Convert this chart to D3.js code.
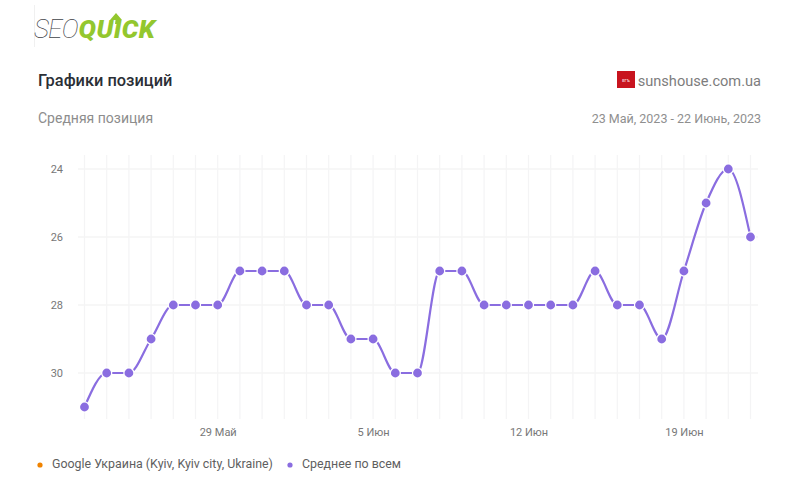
<!DOCTYPE html>
<html lang="ru">
<head>
<meta charset="utf-8">
<script src="https://cdn.jsdelivr.net/npm/d3@7/dist/d3.min.js"></script>
<style>
html,body{margin:0;padding:0;background:#fff}
svg{display:block}
text{font-family:Roboto,"Open Sans",sans-serif}
</style>
</head>
<body>
<svg id="chart" width="800" height="478"></svg>
<script>
// Average search position per day, 23 May to 22 June 2023
const positions = [31,30,30,29,28,28,28,27,27,27,28,28,29,29,30,30,27,27,28,28,28,28,28,27,28,28,29,27,25,24,26];
const firstDay = "2023-05-23";
const yTicks = [24,26,28,30];
const xTickIndexes = [6,13,20,27];
const xTickLabels = ["29 Май","5 Июн","12 Июн","19 Июн"];
const legendNames = ["Google Украина (Kyiv, Kyiv city, Ukraine)","Среднее по всем"];
const legendColors = ["#f08300","#8a6de0"];

const svg = d3.select("#chart");
const days = positions.map((_, i) => d3.utcDay.offset(new Date(firstDay + "T00:00:00Z"), i));

const x = d3.scaleUtc().domain([days[0], days[days.length - 1]]).range([84.5, 750.5]);
const y = d3.scaleLinear().domain([24, 30]).range([169, 373]);

// Header: logo, titles, site and date range
svg.append("line").attr("x1",34.5).attr("x2",34.5).attr("y1",5).attr("y2",47).attr("stroke","#f0f0f0");
svg.append("text").attr("x",34).attr("y",38).attr("font-size",26).attr("letter-spacing",-0.8)
  .attr("font-weight",100).attr("font-style","italic").attr("fill","#3f4348").text("SEO");
svg.append("text").attr("x",78.5).attr("y",38).attr("font-size",26).attr("letter-spacing",0.5)
  .attr("font-weight",900).attr("font-style","italic").attr("fill","#93c72e").text("QUICK");
svg.append("path").attr("d",d3.line()([[110,20],[116,13],[122,20],[119.5,20],[119,24],[115,24],[115.5,20]])+"Z").attr("fill","#93c72e");

svg.append("text").attr("x",38).attr("y",86).attr("font-size",16.4).attr("font-weight",500).attr("fill","#2b2f36").text("Графики позиций");
svg.append("text").attr("x",38).attr("y",123).attr("font-size",14).attr("fill","#8d8d8d").text("Средняя позиция");

svg.append("rect").attr("x",617).attr("y",71).attr("width",18).attr("height",17).attr("fill","#c8141e");
svg.append("text").attr("x",626).attr("y",81.5).attr("font-size",4).attr("font-weight",700).attr("text-anchor","middle").attr("fill","#f5d5d5").text("ЕГЪ");
svg.append("text").attr("x",761).attr("y",85.5).attr("font-size",14.6).attr("text-anchor","end").attr("fill","#7d7d7d").text("sunshouse.com.ua");
svg.append("text").attr("x",761).attr("y",122.5).attr("font-size",12.5).attr("text-anchor","end").attr("fill","#8f8f8f").text("23 Май, 2023 - 22 Июнь, 2023");

// Grid: one vertical rule per day, one horizontal rule per y tick
svg.append("g").selectAll("line").data(days).join("line")
  .attr("x1",d=>x(d)).attr("x2",d=>x(d)).attr("y1",155).attr("y2",419)
  .attr("stroke","#f4f4f5").attr("stroke-width",1.2);
svg.append("g").selectAll("line").data(yTicks).join("line")
  .attr("x1",78).attr("x2",758).attr("y1",d=>y(d)).attr("y2",d=>y(d))
  .attr("stroke","#f4f4f5").attr("stroke-width",1.5);

// Axes
const yAxis = d3.axisLeft(y).tickValues(yTicks).tickSize(0).tickPadding(0).tickFormat(d3.format("d"));
const gy = svg.append("g").attr("transform","translate(63,0)").call(yAxis);
gy.select(".domain").remove();
gy.selectAll("text").attr("font-size",11).attr("fill","#777").style("font-family","Roboto,sans-serif");

const xAxis = d3.axisBottom(x).tickValues(xTickIndexes.map(i=>days[i])).tickSize(0).tickPadding(0)
  .tickFormat((d,i)=>xTickLabels[i]);
const gx = svg.append("g").attr("transform","translate(0,428)").call(xAxis);
gx.select(".domain").remove();
gx.selectAll("text").attr("font-size",11).attr("fill","#777").style("font-family","Roboto,sans-serif");

// Series line and markers with a white ring
const line = d3.line().x((d,i)=>x(days[i])).y(d=>y(d)).curve(d3.curveMonotoneX);
svg.append("path").attr("d",line(positions)).attr("fill","none").attr("stroke","#8a6de0").attr("stroke-width",2.2);
svg.append("g").selectAll("circle").data(positions).join("circle")
  .attr("cx",(d,i)=>x(days[i])).attr("cy",d=>y(d)).attr("r",4.4)
  .attr("fill","#8a6de0").attr("stroke","#fff").attr("stroke-width",2.5).attr("paint-order","stroke");

// Legend
const legendX = [40,290], legendTextX = [52,302];
const legend = svg.append("g").selectAll("g").data(legendNames).join("g");
legend.append("circle").attr("cx",(d,i)=>legendX[i]).attr("cy",465).attr("r",2.6).attr("fill",(d,i)=>legendColors[i]);
legend.append("text").attr("x",(d,i)=>legendTextX[i]).attr("y",468).attr("font-size",12.4).attr("fill","#5f5f5f").text(d=>d);
</script>
</body>
</html>
